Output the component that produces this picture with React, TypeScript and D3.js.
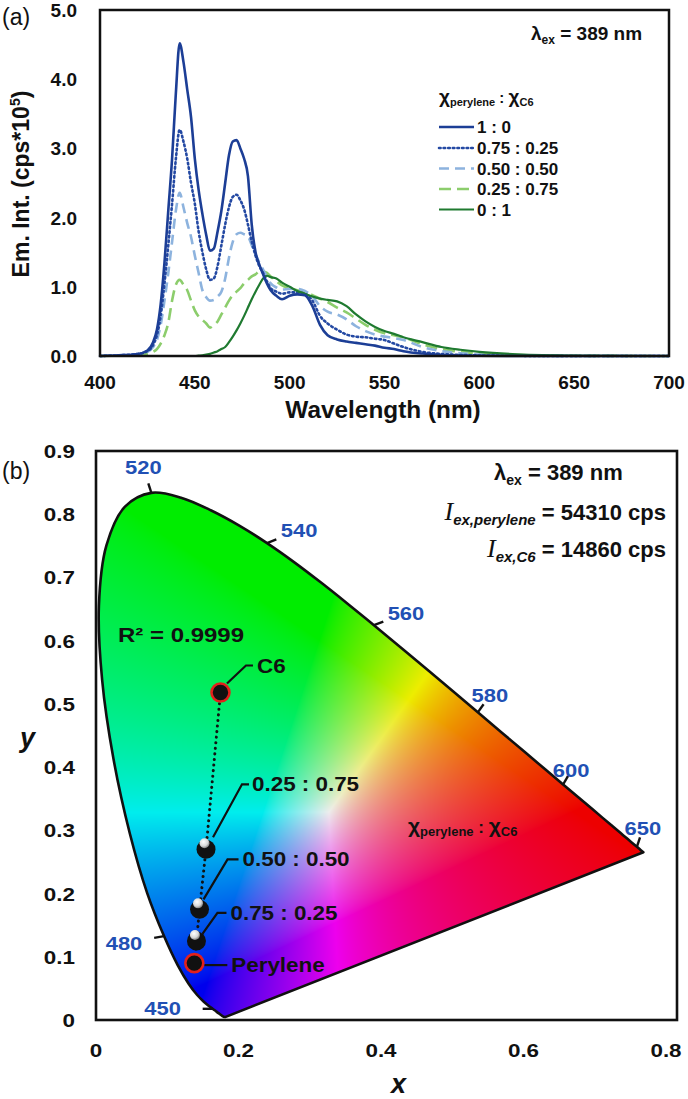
import React, { useMemo } from "react";
import * as d3 from "d3";

// ---------- Panel (a) data ----------
const WAVELENGTHS = [400, 410, 420, 425, 428, 430, 432, 434, 436, 438, 440, 442, 444, 446, 448, 450, 452, 454, 456, 458, 460, 462, 464, 466, 468, 470, 472, 474, 476, 478, 480, 482, 484, 486, 488, 490, 493, 496, 500, 504, 508, 512, 516, 520, 525, 530, 535, 540, 545, 550, 555, 560, 570, 580, 590, 600, 620, 650, 700];
const EM_1_0 = [0, 0.01, 0.03, 0.08, 0.2, 0.38, 0.75, 1.35, 2.1, 2.85, 3.8, 4.52, 4.25, 3.85, 3.45, 2.85, 2.4, 2.05, 1.75, 1.52, 1.55, 1.8, 2.1, 2.5, 2.9, 3.1, 3.12, 3.0, 2.85, 2.6, 1.9, 1.5, 1.32, 1.18, 1.05, 0.95, 0.87, 0.82, 0.87, 0.89, 0.88, 0.72, 0.45, 0.3, 0.24, 0.21, 0.19, 0.17, 0.15, 0.12, 0.1, 0.07, 0.035, 0.015, 0.008, 0.004, 0, 0, 0];
const EM_075_025 = [0, 0.01, 0.03, 0.07, 0.16, 0.3, 0.58, 1.05, 1.6, 2.2, 2.85, 3.27, 3.1, 2.85, 2.5, 2.2, 1.8, 1.5, 1.25, 1.1, 1.12, 1.3, 1.6, 1.9, 2.15, 2.3, 2.33, 2.25, 2.12, 1.9, 1.65, 1.45, 1.3, 1.2, 1.08, 0.98, 0.93, 0.9, 0.92, 0.92, 0.9, 0.8, 0.58, 0.47, 0.38, 0.31, 0.28, 0.27, 0.25, 0.23, 0.18, 0.13, 0.06, 0.03, 0.015, 0.008, 0.003, 0, 0];
const EM_050_050 = [0, 0.01, 0.025, 0.06, 0.13, 0.23, 0.45, 0.8, 1.2, 1.65, 2.1, 2.36, 2.15, 1.92, 1.72, 1.45, 1.2, 0.95, 0.85, 0.8, 0.81, 0.86, 0.93, 1.12, 1.42, 1.65, 1.76, 1.78, 1.76, 1.73, 1.6, 1.47, 1.35, 1.25, 1.14, 1.05, 0.99, 0.96, 0.97, 0.97, 0.94, 0.86, 0.72, 0.64, 0.6, 0.53, 0.43, 0.36, 0.31, 0.28, 0.26, 0.23, 0.13, 0.07, 0.04, 0.02, 0.008, 0, 0];
const EM_025_075 = [0, 0.005, 0.015, 0.03, 0.06, 0.1, 0.18, 0.3, 0.48, 0.8, 1.03, 1.1, 1.03, 0.95, 0.8, 0.66, 0.57, 0.52, 0.47, 0.41, 0.45, 0.5, 0.6, 0.7, 0.8, 0.88, 0.93, 0.98, 1.05, 1.1, 1.15, 1.18, 1.22, 1.22, 1.2, 1.15, 1.08, 1.02, 0.98, 0.95, 0.92, 0.88, 0.83, 0.78, 0.7, 0.63, 0.54, 0.45, 0.38, 0.33, 0.3, 0.27, 0.17, 0.1, 0.06, 0.035, 0.012, 0.003, 0];
const EM_0_1 = [0, 0, 0, 0, 0, 0, 0, 0, 0, 0, 0, 0, 0, 0, 0, 0, 0.005, 0.01, 0.02, 0.03, 0.05, 0.07, 0.1, 0.13, 0.2, 0.28, 0.37, 0.47, 0.58, 0.7, 0.82, 0.93, 1.03, 1.12, 1.16, 1.14, 1.12, 1.06, 1.0, 0.94, 0.9, 0.86, 0.83, 0.81, 0.79, 0.72, 0.6, 0.5, 0.42, 0.36, 0.32, 0.27, 0.2, 0.13, 0.09, 0.06, 0.025, 0.006, 0];
const RATIO_LABELS = ["1 : 0", "0.75 : 0.25", "0.50 : 0.50", "0.25 : 0.75", "0 : 1"];
const A_X_TICKS = [400, 450, 500, 550, 600, 650, 700];
const A_Y_TICKS = [0, 1, 2, 3, 4, 5];

// ---------- Panel (b) data ----------
const CIE_WL = [380, 390, 400, 410, 420, 425, 430, 435, 440, 445, 450, 455, 460, 465, 470, 475, 480, 485, 490, 495, 500, 505, 510, 515, 520, 525, 530, 535, 540, 545, 550, 555, 560, 565, 570, 575, 580, 585, 590, 595, 600, 605, 610, 615, 620, 625, 630, 640, 650, 660, 680, 700];
const CIE_X = [0.1741, 0.1738, 0.1733, 0.1726, 0.1714, 0.1703, 0.1689, 0.1669, 0.1644, 0.1611, 0.1566, 0.1510, 0.1440, 0.1355, 0.1241, 0.1096, 0.0913, 0.0687, 0.0454, 0.0235, 0.0082, 0.0039, 0.0139, 0.0389, 0.0743, 0.1142, 0.1547, 0.1929, 0.2296, 0.2658, 0.3016, 0.3373, 0.3731, 0.4087, 0.4441, 0.4788, 0.5125, 0.5448, 0.5752, 0.6029, 0.6270, 0.6482, 0.6658, 0.6801, 0.6915, 0.7006, 0.7079, 0.7190, 0.7260, 0.7300, 0.7334, 0.7347];
const CIE_Y = [0.0050, 0.0049, 0.0048, 0.0048, 0.0051, 0.0058, 0.0069, 0.0086, 0.0109, 0.0138, 0.0177, 0.0227, 0.0297, 0.0399, 0.0578, 0.0868, 0.1327, 0.2007, 0.2950, 0.4127, 0.5384, 0.6548, 0.7502, 0.8120, 0.8338, 0.8262, 0.8059, 0.7816, 0.7543, 0.7243, 0.6923, 0.6589, 0.6245, 0.5896, 0.5547, 0.5202, 0.4866, 0.4544, 0.4242, 0.3965, 0.3725, 0.3514, 0.3340, 0.3197, 0.3083, 0.2993, 0.2920, 0.2809, 0.2740, 0.2700, 0.2666, 0.2653];
const SPECTRAL_MARKS = [450, 480, 520, 540, 560, 580, 600, 650];
const MIX_LABELS = ["C6", "0.25 : 0.75", "0.50 : 0.50", "0.75 : 0.25", "Perylene"];
const MIX_X = [0.1747, 0.1544, 0.1453, 0.141, 0.138];
const MIX_Y = [0.518, 0.27, 0.175, 0.125, 0.09];
const MIX_PURE = [true, false, false, false, true];
const B_X_TICKS = [0, 0.2, 0.4, 0.6, 0.8];
const B_Y_TICKS = [0, 0.1, 0.2, 0.3, 0.4, 0.5, 0.6, 0.7, 0.8, 0.9];

// ---------- styles ----------
const FONT = "'Liberation Sans', Arial, Helvetica, sans-serif";
const SERIES_STYLE = [
  { color: "#1c3e96", dash: "none", width: 2.6 },
  { color: "#2449a3", dash: "1.6,3", width: 2.6 },
  { color: "#8db3de", dash: "10,6", width: 2.6 },
  { color: "#8ccd6c", dash: "12,6", width: 2.6 },
  { color: "#1f7a30", dash: "none", width: 2.2 },
];
const DRAW_ORDER = [3, 2, 1, 4, 0];
const SERIES_VALUES = [EM_1_0, EM_075_025, EM_050_050, EM_025_075, EM_0_1];

const MARK_STYLE: Record<number, { dx: number; dy: number }> = {
  450: { dx: -50, dy: 0 },
  480: { dx: -40, dy: 7 },
  520: { dx: -8, dy: -25 },
  540: { dx: 32, dy: -13 },
  560: { dx: 32, dy: -12 },
  580: { dx: 12, dy: -17 },
  600: { dx: 8, dy: -14 },
  650: { dx: 6, dy: -18 },
};
const LEADERS = [
  { pts: [[6.5, -9], [25.5, -27], [32.5, -27]], tx: 36.5, ty: -27 },
  { pts: [[7, -12], [36, -65], [43, -65]], tx: 46, ty: -65 },
  { pts: [[4, -10], [28, -50], [39, -50]], tx: 43, ty: -50 },
  { pts: [[6, -7], [21, -28], [30, -28]], tx: 34, ty: -28 },
  { pts: [[10, 2], [33, 2]], tx: 37, ty: 2 },
];

function T(props: any) {
  const { x, y, size, anchor = "start", weight = "bold", sx = 1, fill = "#111", style, family = FONT, children } = props;
  return (
    <text
      transform={`translate(${x},${y}) scale(${sx},1)`}
      fontSize={size}
      fontFamily={family}
      fontWeight={weight}
      textAnchor={anchor}
      fill={fill}
      style={style}
    >
      {children}
    </text>
  );
}

function chromaToRGB(cx: number, cy: number) {
  const yy = Math.max(cy, 0.0005);
  const X = cx / yy, Y = 1, Z = (1 - cx - yy) / yy;
  let r = 3.2406 * X - 1.5372 * Y - 0.4986 * Z;
  let g = -0.9689 * X + 1.8758 * Y + 0.0415 * Z;
  let b = 0.0557 * X - 0.204 * Y + 1.057 * Z;
  r = Math.max(0, r); g = Math.max(0, g); b = Math.max(0, b);
  const m = Math.max(r, g, b) || 1;
  r /= m; g /= m; b /= m;
  const gam = (v: number) => Math.pow(v, 0.72) * 0.93;
  return [gam(r) * 255, gam(g) * 255, gam(b) * 255];
}

export default function App() {
  const W = 688, H = 1099;
  // panel (a) scales
  const ax = d3.scaleLinear().domain([400, 700]).range([100, 669]);
  const ay = d3.scaleLinear().domain([0, 5]).range([356, 10]);
  // panel (b) scales
  const bx = d3.scaleLinear().domain([0, 0.8]).range([96, 666]);
  const by = d3.scaleLinear().domain([0, 0.9]).range([1020, 451]);
  const lx = d3.scaleLinear().domain([0, 1]).range([96, 841]); // diagram image scale

  const line = d3
    .line<number>()
    .x((_, i) => ax(WAVELENGTHS[i]))
    .y((d) => ay(d))
    .curve(d3.curveMonotoneX);

  const locusPts: [number, number][] = CIE_X.map((v, i) => [lx(v), by(CIE_Y[i])]);
  const locusPath = d3.line().curve(d3.curveCatmullRom)(locusPts) + "Z";

  const img = useMemo(() => {
    if (typeof document === "undefined") return null;
    const x0 = 96, y0 = 480, w = 560, h = 542;
    const c = document.createElement("canvas");
    c.width = w; c.height = h;
    const ctx = c.getContext("2d");
    if (!ctx) return null;
    const im = ctx.createImageData(w, h);
    for (let j = 0; j < h; j++) {
      const cy = by.invert(y0 + j + 0.5);
      for (let i = 0; i < w; i++) {
        const cx = lx.invert(x0 + i + 0.5);
        const [r, g, b] = chromaToRGB(cx, cy);
        const k = (j * w + i) * 4;
        im.data[k] = r; im.data[k + 1] = g; im.data[k + 2] = b; im.data[k + 3] = 255;
      }
    }
    ctx.putImageData(im, 0, 0);
    return { href: c.toDataURL(), x0, y0, w, h };
  }, []);

  const legendRowsY = [127, 148, 168.5, 189, 209.5];

  return (
    <svg width={W} height={H} style={{ display: "block", position: "absolute", left: 0, top: 0, background: "#fff" }}>
      <rect x={0} y={0} width={W} height={H} fill="#fff" />
      {/* ===== Panel (a) ===== */}
      <T x={2} y={25} size={23} weight="normal">(a)</T>
      {A_Y_TICKS.map((t) => (
        <T key={t} x={77} y={ay(t) + 7} size={19} anchor="end">{t.toFixed(1)}</T>
      ))}
      {A_X_TICKS.map((t) => (
        <T key={t} x={ax(t)} y={389} size={19} anchor="middle">{t}</T>
      ))}
      <T x={383} y={418} size={23} anchor="middle" sx={1.06}>Wavelength (nm)</T>
      <text transform="translate(29,184) rotate(-90)" fontSize={23} fontFamily={FONT} fontWeight="bold" textAnchor="middle" fill="#111">
        Em. Int. (cps*10<tspan fontSize={14} dy={-9}>5</tspan><tspan dy={9}>)</tspan>
      </text>
      <g>
        {DRAW_ORDER.map((si) => (
          <path
            key={si}
            d={line(SERIES_VALUES[si]) || ""}
            fill="none"
            stroke={SERIES_STYLE[si].color}
            strokeWidth={SERIES_STYLE[si].width}
            strokeDasharray={SERIES_STYLE[si].dash}
            strokeLinecap={si === 1 ? "round" : "butt"}
            strokeLinejoin="round"
          />
        ))}
      </g>
      <rect x={ax(400)} y={ay(5)} width={ax(700) - ax(400)} height={ay(0) - ay(5)} fill="none" stroke="#111" strokeWidth={2.5} />
      {/* annotation a */}
      <text x={531} y={40} fontSize={19} fontFamily={FONT} fontWeight="bold" fill="#111">
        λ<tspan fontSize={12} dy={4}>ex</tspan><tspan dy={-4}> = 389 nm</tspan>
      </text>
      <text x={439} y={103} fontSize={19} fontFamily={FONT} fontWeight="bold" fill="#111">
        χ<tspan fontSize={11} dy={3}>perylene</tspan><tspan dy={-3} fontSize={15}> : </tspan>χ<tspan fontSize={11} dy={3}>C6</tspan>
      </text>
      {RATIO_LABELS.map((lab, i) => (
        <g key={lab}>
          <line x1={439} x2={474} y1={legendRowsY[i]} y2={legendRowsY[i]} stroke={SERIES_STYLE[i].color} strokeWidth={SERIES_STYLE[i].width} strokeDasharray={SERIES_STYLE[i].dash} strokeLinecap={i === 1 ? "round" : "butt"} />
          <T x={477} y={legendRowsY[i] + 6} size={17}>{lab}</T>
        </g>
      ))}

      {/* ===== Panel (b) ===== */}
      <T x={2} y={479} size={23} weight="normal">(b)</T>
      <defs>
        <clipPath id="locusClip">
          <path d={locusPath} />
        </clipPath>
        <radialGradient id="shine" cx="0.4" cy="0.35" r="0.7">
          <stop offset="0" stopColor="#ffffff" />
          <stop offset="0.6" stopColor="#d8d8d8" />
          <stop offset="1" stopColor="#6a6a6a" />
        </radialGradient>
      </defs>
      {img && (
        <image href={img.href} x={img.x0} y={img.y0} width={img.w} height={img.h} clipPath="url(#locusClip)" preserveAspectRatio="none" />
      )}
      <path d={locusPath} fill="none" stroke="#111" strokeWidth={2.6} strokeLinejoin="round" />
      {SPECTRAL_MARKS.map((wl) => {
        const i = CIE_WL.indexOf(wl);
        const px = lx(CIE_X[i]), py = by(CIE_Y[i]);
        const st = MARK_STYLE[wl];
        const tx = px + st.dx, ty = py + st.dy;
        const dx = tx - px, dy = ty - py;
        const len = Math.hypot(dx, dy);
        const ux = dx / len, uy = dy / len;
        return (
          <g key={wl}>
            <line x1={px} y1={py} x2={px + ux * 10} y2={py + uy * 10} stroke="#111" strokeWidth={2.4} />
            <T x={tx} y={ty + 6.5} size={18} sx={1.22} anchor="middle" fill="#2150b4">{wl}</T>
          </g>
        );
      })}
      {/* fit line */}
      <path
        d={d3.line()(MIX_X.map((v, i) => [bx(v), by(MIX_Y[i])]) as [number, number][]) || ""}
        fill="none" stroke="#111" strokeWidth={3} strokeDasharray="0.1,5.5" strokeLinecap="round"
      />
      {MIX_X.map((v, i) => {
        const px = bx(v), py = by(MIX_Y[i]);
        const L = LEADERS[i];
        const pts = L.pts.map(([dx, dy]) => [px + dx, py + dy] as [number, number]);
        return (
          <g key={i}>
            <path d={d3.line()(pts) || ""} fill="none" stroke="#111" strokeWidth={2.2} />
            {MIX_PURE[i] ? (
              <circle cx={px} cy={py} r={9} fill="#111" stroke="#e3201b" strokeWidth={2.6} />
            ) : (
              <g>
                <circle cx={px} cy={py} r={9.5} fill="#111" />
                <circle cx={px - 1.5} cy={py - 6} r={5} fill="url(#shine)" />
              </g>
            )}
            <T x={px + L.tx} y={py + L.ty + 7} size={20} sx={1.12}>{MIX_LABELS[i]}</T>
          </g>
        );
      })}
      <T x={118} y={642} size={20} sx={1.2}>R² = 0.9999</T>
      <text x={408} y={833} fontSize={21} fontFamily={FONT} fontWeight="bold" fill="#111">
        χ<tspan fontSize={13} dy={3}>perylene</tspan><tspan dy={-3} fontSize={17}> : </tspan>χ<tspan fontSize={13} dy={3}>C6</tspan>
      </text>
      {/* annotations */}
      <text x={494} y={480} fontSize={22} fontFamily={FONT} fontWeight="bold" fill="#111">
        λ<tspan fontSize={14} dy={5}>ex</tspan><tspan dy={-5}> = 389 nm</tspan>
      </text>
      <text x={666} y={520} fontSize={22} fontFamily={FONT} fontWeight="bold" fill="#111" textAnchor="end">
        <tspan fontFamily="'Liberation Serif', serif" fontStyle="italic" fontWeight="normal" fontSize={26}>I</tspan>
        <tspan fontSize={15} fontStyle="italic" dy={5}>ex,perylene</tspan><tspan dy={-5}> = 54310 cps</tspan>
      </text>
      <text x={666} y={557} fontSize={22} fontFamily={FONT} fontWeight="bold" fill="#111" textAnchor="end">
        <tspan fontFamily="'Liberation Serif', serif" fontStyle="italic" fontWeight="normal" fontSize={26}>I</tspan>
        <tspan fontSize={15} fontStyle="italic" dy={5}>ex,C6</tspan><tspan dy={-5}> = 14860 cps</tspan>
      </text>
      {/* axes b */}
      <rect x={bx(0)} y={by(0.9)} width={677 - bx(0)} height={by(0) - by(0.9)} fill="none" stroke="#111" strokeWidth={2.6} />
      {B_Y_TICKS.map((t) => (
        <T key={t} x={75} y={by(t) + 7} size={19} sx={1.18} anchor="end">{t === 0 ? "0" : t.toFixed(1)}</T>
      ))}
      {B_X_TICKS.map((t) => (
        <T key={t} x={bx(t)} y={1057} size={19} sx={1.18} anchor="middle">{t === 0 ? "0" : t.toFixed(1)}</T>
      ))}
      <T x={391} y={1093} size={27} style={{ fontStyle: "italic" }}>x</T>
      <T x={20} y={747} size={27} style={{ fontStyle: "italic" }}>y</T>
    </svg>
  );
}
